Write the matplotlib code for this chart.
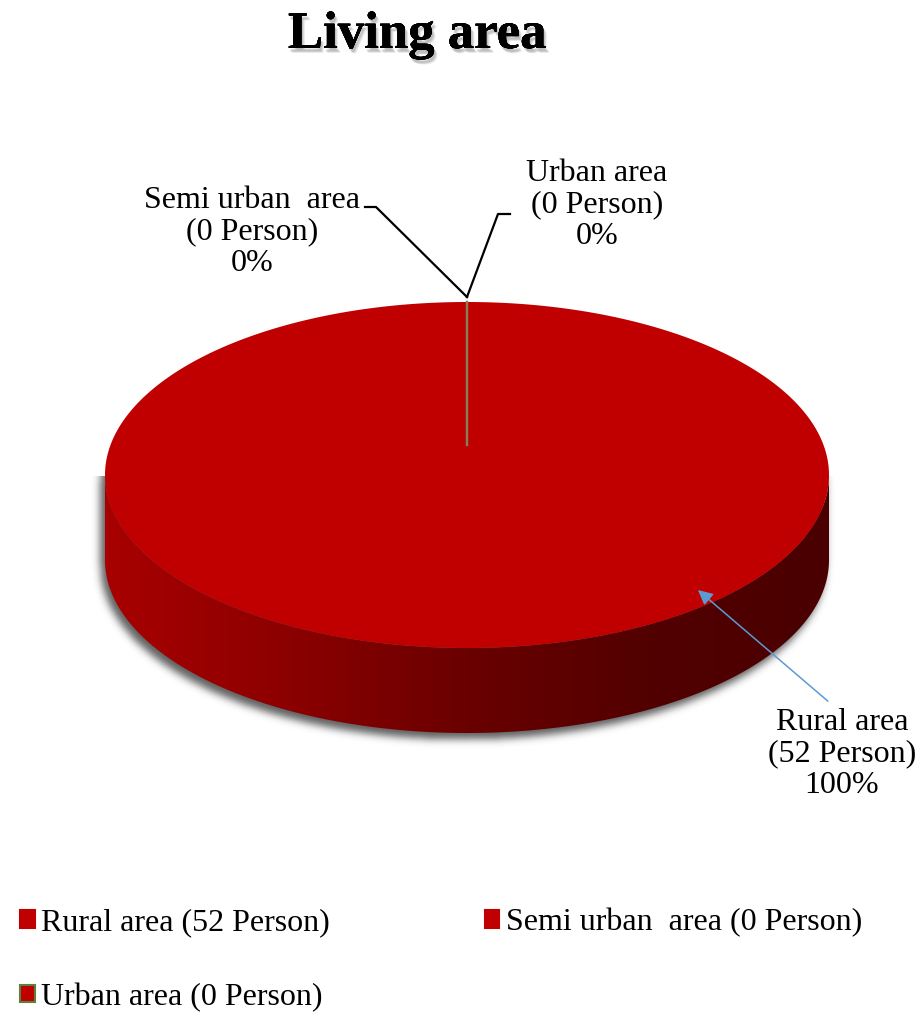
import numpy as np
import matplotlib
matplotlib.use("Agg")
import matplotlib.pyplot as plt
import matplotlib.patheffects as pe
from matplotlib.patches import Polygon, Patch
from matplotlib.colors import LinearSegmentedColormap

# data
categories = ["Rural area", "Semi urban  area", "Urban area"]
persons = [52, 0, 0]
edge_colors = ["#c00000", "#c00000", "#5f7f3f"]
face_color = "#c00000"

total = sum(persons)
shares = [p / total * 100 for p in persons]

plt.rcParams["font.family"] = ["Liberation Serif", "DejaVu Serif"]

fig = plt.figure(figsize=(9.22, 10.13), dpi=100)
ax = fig.add_axes([0, 0, 1, 1])
ax.set_xlim(0, 922)
ax.set_ylim(1013, 0)
ax.axis("off")

# pie geometry (pixel units)
cx, cy = 467, 475
rx, ry = 362, 173
depth = 85


def ellipse_pt(t_deg, r=1.0, dy=0.0):
    t = np.radians(t_deg)
    return cx + r * rx * np.cos(t), cy - r * ry * np.sin(t) + dy


# soft shadow under the cylinder
xs = np.arange(0, 922)
ys = np.arange(0, 1013)
X, Y = np.meshgrid(xs, ys)
sx, sy = -5, 6
u = (X - cx - sx) / rx
inside = np.abs(u) <= 1
h = ry * np.sqrt(np.clip(1 - u ** 2, 0, None))
mask = inside & (Y >= cy + sy - h) & (Y <= cy + sy + depth + h)
mask = mask.astype(float)
sig = 4.0
k = np.exp(-0.5 * (np.arange(-12, 13) / sig) ** 2)
k /= k.sum()
blur = np.apply_along_axis(lambda r: np.convolve(r, k, mode="same"), 1, mask)
blur = np.apply_along_axis(lambda c: np.convolve(c, k, mode="same"), 0, blur)
blur *= (Y > cy)
shadow = np.zeros((1013, 922, 4))
shadow[..., :3] = 0.22
shadow[..., 3] = blur * 0.8
ax.imshow(shadow, extent=(0, 922, 1013, 0), zorder=1, interpolation="bilinear")

# side wall with horizontal shading
tt = np.linspace(180, 360, 300)
top_x, top_y = ellipse_pt(tt)
bot_x, bot_y = ellipse_pt(tt[::-1], dy=depth)
side = Polygon(np.column_stack([np.r_[top_x, bot_x], np.r_[top_y, bot_y]]),
               closed=True, facecolor="none", edgecolor="none", zorder=2)
ax.add_patch(side)
side_cmap = LinearSegmentedColormap.from_list(
    "side", ["#a80000", "#8c0000", "#6a0000", "#520000", "#4a0000"])
grad = np.linspace(0, 1, 400)[None, :]
im = ax.imshow(grad, cmap=side_cmap, aspect="auto",
               extent=(cx - rx, cx + rx, cy + ry + depth + 2, cy - 2), zorder=2)
im.set_clip_path(side)

# top face, wedges clockwise from 12 o'clock
start = 90.0
angles = []
for p in shares:
    end = start - p / 100 * 360
    angles.append((start, end))
    if p > 0:
        ts = np.linspace(start, end, 400)
        px, py = ellipse_pt(ts)
        if p < 100:
            px = np.r_[cx, px]
            py = np.r_[cy, py]
        ax.add_patch(Polygon(np.column_stack([px, py]), closed=True,
                             facecolor=face_color, edgecolor="none", zorder=3))
    start = end

# borders of the empty wedges
for (a0, a1), p, ec in zip(angles, shares, edge_colors):
    if p == 0:
        ex, ey = ellipse_pt(a0)
        ax.plot([cx, ex], [cy - 30, ey], color="#857f55", lw=1.6, zorder=4)

# data labels
lbl_kw = dict(fontsize=23, ha="center", va="center", linespacing=1.12, zorder=5)
texts = [f"{c}\n({p} Person)\n{s:.0f}%" for c, p, s in zip(categories, persons, shares)]

# rural: arrow from label to the top face
tip = ellipse_pt(-46, r=0.91)
ax.text(842, 754, texts[0], **lbl_kw)
ax.annotate("", xy=tip, xytext=(830, 703),
            arrowprops=dict(arrowstyle="-|>", color="#5b9bd5", lw=1.1,
                            mutation_scale=22), zorder=5)

# zero slices: elbow leader lines meeting at the top of the ellipse
ax_pt = ellipse_pt(angles[1][0], dy=-5)
ax.text(252, 232, texts[1], **lbl_kw)
ax.plot([ax_pt[0], 376, 365], [ax_pt[1], 207, 207], color="black", lw=1.6, zorder=5)
ax.text(597, 205, texts[2], **lbl_kw)
ax.plot([ax_pt[0], 498, 510], [ax_pt[1], 214, 214], color="black", lw=1.6, zorder=5)

# title with a soft drop shadow
soft = [pe.withSimplePatchShadow(offset=(dx, dy), shadow_rgbFace="#777777", alpha=0.12)
        for dx, dy in [(1, -2), (2, -3), (1.5, -2.5), (2.5, -3.5), (1, -3)]]
ax.text(417, 35, "Living area", fontsize=38, fontweight="bold", ha="center",
        va="center", zorder=6, path_effects=soft + [pe.Normal()])

# legend, row-major: Rural, Semi urban / Urban
handles = [Patch(facecolor=face_color, edgecolor=ec, lw=1.5) for ec in edge_colors]
labels = [f"{c} ({p} Person)" for c, p in zip(categories, persons)]
order = [0, 2, 1]
ax.legend([handles[i] for i in order], [labels[i] for i in order],
          loc="upper left", bbox_to_anchor=(4, 892), bbox_transform=ax.transData,
          ncol=2, frameon=False, fontsize=23, handlelength=0.46, handleheight=0.46,
          handletextpad=0.2, columnspacing=4.85, labelspacing=1.42, borderpad=0)

fig.savefig("out.png", dpi=100)
